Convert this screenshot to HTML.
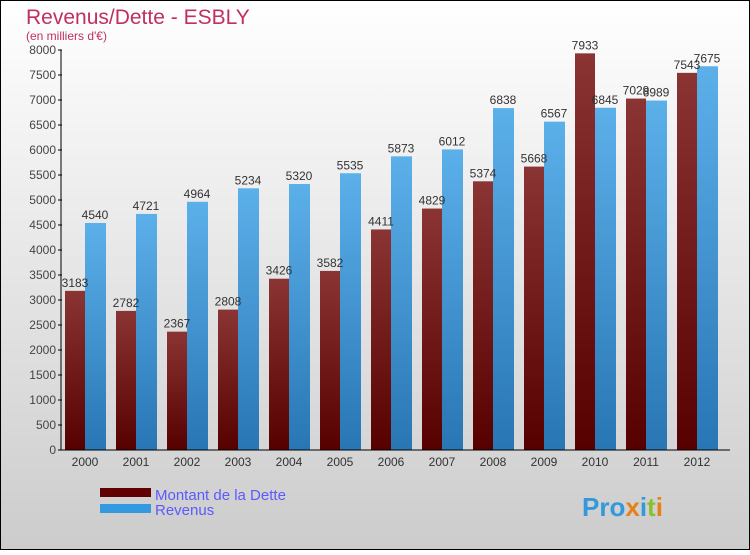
<!DOCTYPE html>
<html><head><meta charset="utf-8"><style>
html,body{margin:0;padding:0}
body{width:750px;height:550px;overflow:hidden;font-family:"Liberation Sans",sans-serif}
</style></head><body>
<svg id="c" width="750" height="550" xmlns="http://www.w3.org/2000/svg">
<defs>
<linearGradient id="bg" x1="0" y1="0" x2="0" y2="1"><stop offset="0" stop-color="#ffffff"/><stop offset="1" stop-color="#cccccc"/></linearGradient>
<linearGradient id="gd" x1="0" y1="0" x2="0" y2="1"><stop offset="0" stop-color="#8a3434"/><stop offset="1" stop-color="#560000"/></linearGradient>
<linearGradient id="gr" x1="0" y1="0" x2="0" y2="1"><stop offset="0" stop-color="#5cb0ea"/><stop offset="1" stop-color="#2876b4"/></linearGradient>
</defs>
<rect x="0.5" y="0.5" width="749" height="549" fill="url(#bg)" stroke="#000"/>
<text x="26" y="24" font-size="21" fill="#c0305f">Revenus/Dette - ESBLY</text>
<text x="26" y="40" font-size="12" fill="#c0305f">(en milliers d'€)</text>
<g id="bars"></g>
<g id="axes"></g>
<rect x="100" y="488" width="51" height="9" fill="#600000"/>
<text x="155" y="500" font-size="15" fill="#5a5aff">Montant de la Dette</text>
<rect x="100" y="504" width="51" height="9" fill="#3399e0"/>
<text x="155" y="515" font-size="15" fill="#5a5aff">Revenus</text>
<text x="582" y="516" font-size="26" font-weight="bold" fill="#3399dd">Pro<tspan fill="#e8801a">x</tspan><tspan fill="#3399dd">i</tspan><tspan fill="#8ac030">t</tspan><tspan fill="#e8801a">i</tspan></text>
</svg>
<script>
const years=["2000","2001","2002","2003","2004","2005","2006","2007","2008","2009","2010","2011","2012"];
const dette=[3183,2782,2367,2808,3426,3582,4411,4829,5374,5668,7933,7029,7543];
const revenus=[4540,4721,4964,5234,5320,5535,5873,6012,6838,6567,6845,6989,7675];
const yTicks=[0,500,1000,1500,2000,2500,3000,3500,4000,4500,5000,5500,6000,6500,7000,7500,8000];
const NS="http://www.w3.org/2000/svg";
const y0=450,yMax=8000,ph=400;
function yS(v){return y0-v/yMax*ph;}
function xS(i){return 65+i*51;}
function mk(t,a,p){const e=document.createElementNS(NS,t);for(const k in a)e.setAttribute(k,a[k]);p.appendChild(e);return e;}
const bars=document.getElementById('bars'),axes=document.getElementById('axes');
years.forEach((yr,i)=>{
  const x=xS(i);
  const d=mk('rect',{x:x,y:yS(dette[i]),width:20,height:y0-yS(dette[i]),fill:'url(#gd)'},bars);
  
  
  const r=mk('rect',{x:x+20,y:yS(revenus[i]),width:21,height:y0-yS(revenus[i]),fill:'url(#gr)'},bars);
  
  
  const t1=mk('text',{x:x+10,y:yS(dette[i])-4,'font-size':12,'text-anchor':'middle',fill:'#333'},bars);
  t1.textContent=dette[i];
  
  
  const t2=mk('text',{x:x+30,y:yS(revenus[i])-4,'font-size':12,'text-anchor':'middle',fill:'#333'},bars);
  t2.textContent=revenus[i];
  
  
  const xl=mk('text',{x:x+20,y:466,'font-size':12,'text-anchor':'middle',fill:'#333'},axes);
  xl.textContent=yr;
  
  
});
const ya=mk('line',{x1:61,y1:50,x2:61,y2:450,stroke:'#000','stroke-width':1},axes);


const xa=mk('line',{x1:58,y1:450,x2:730,y2:450,stroke:'#000','stroke-width':1},axes);


yTicks.forEach(v=>{
  const tk=mk('line',{x1:58,y1:yS(v),x2:62,y2:yS(v),stroke:'#000'},axes);
  
  
  const tl=mk('text',{x:56,y:yS(v)+4,'font-size':12,'text-anchor':'end',fill:'#444'},axes);
  tl.textContent=v;
  
  
});
</script>
</body></html>
